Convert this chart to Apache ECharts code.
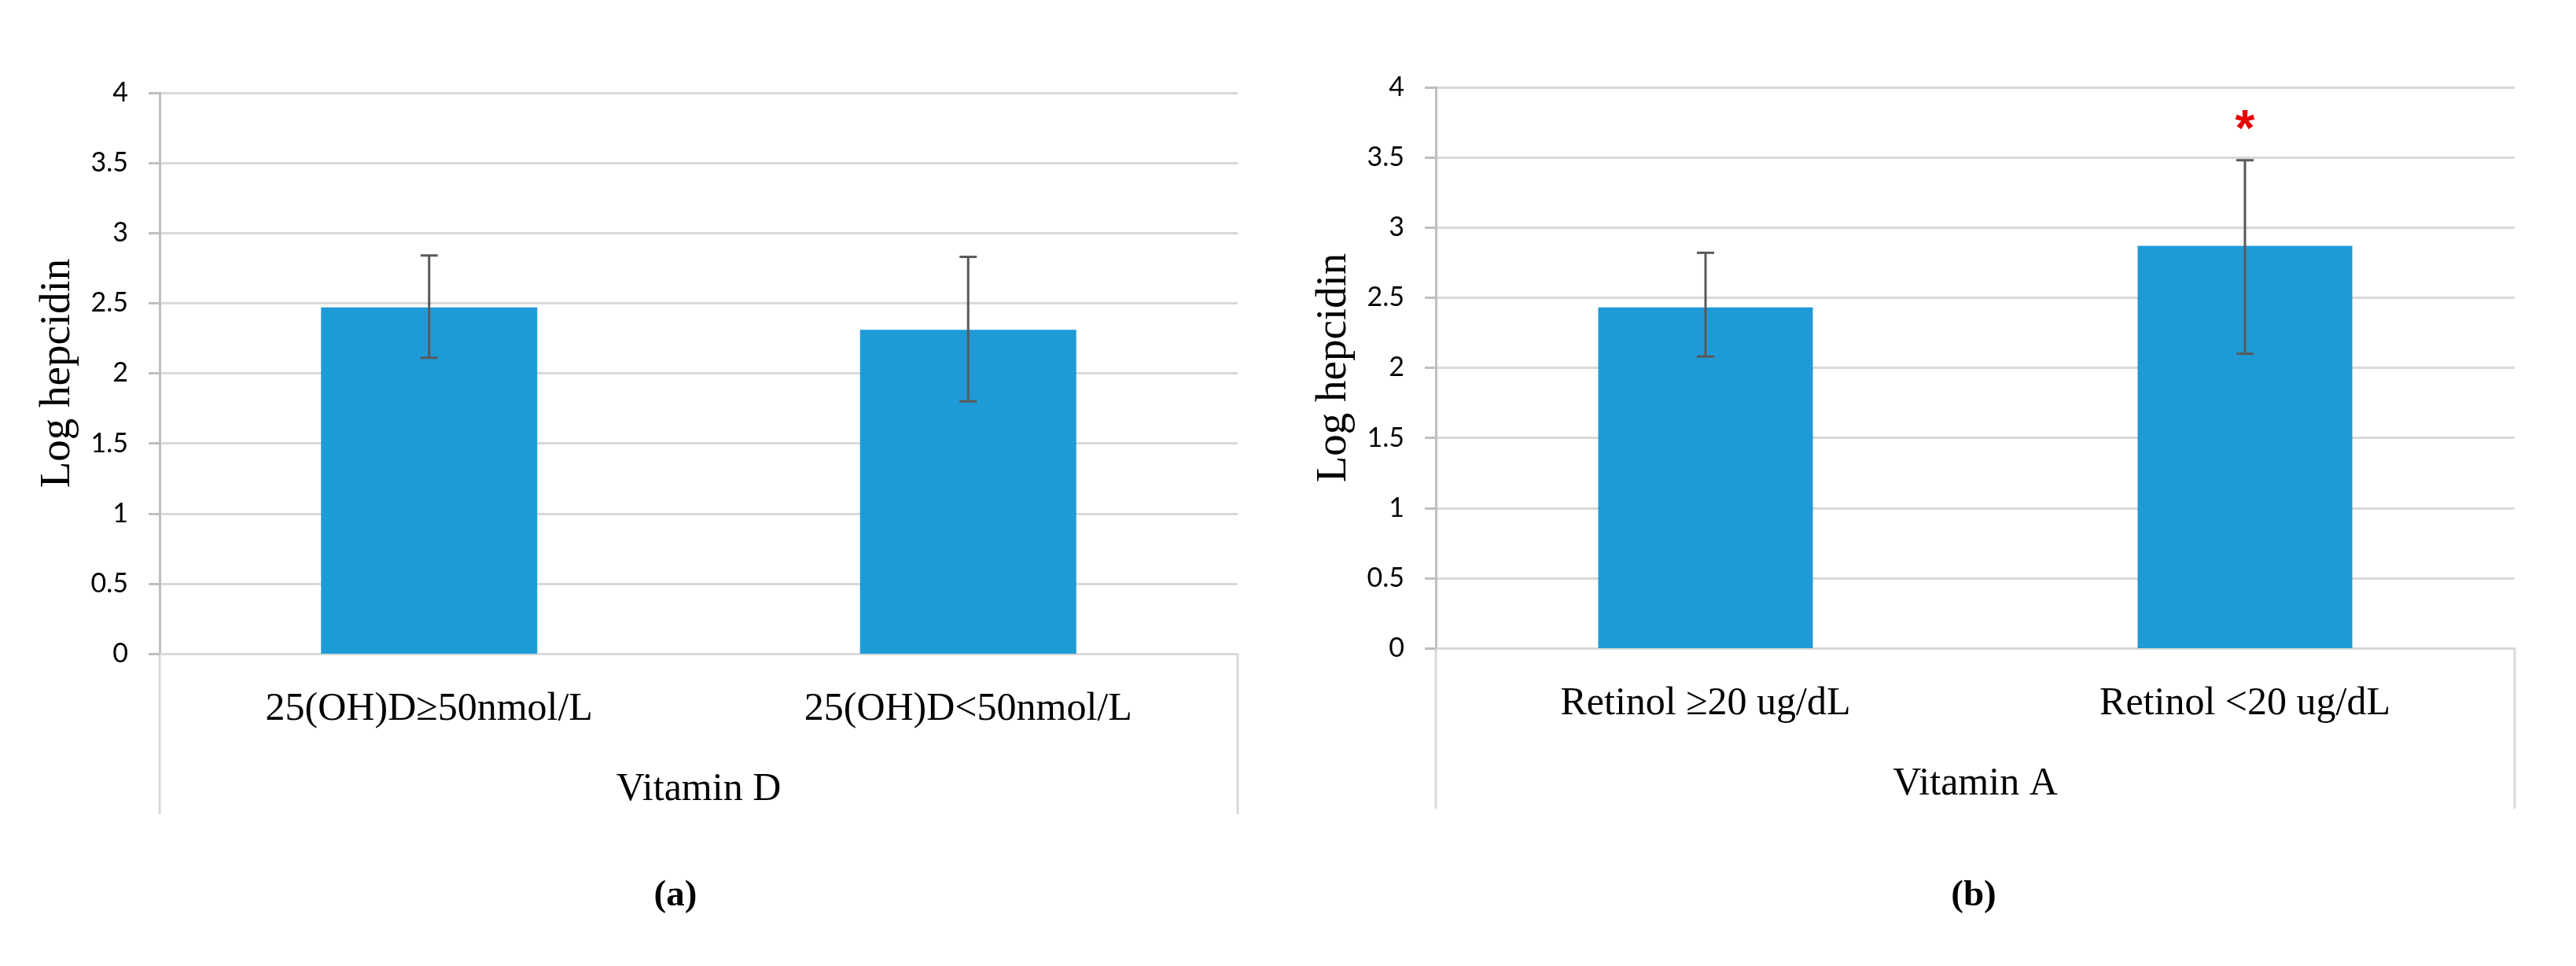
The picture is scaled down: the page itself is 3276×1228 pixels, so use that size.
<!DOCTYPE html>
<html>
<head>
<meta charset="utf-8">
<script src="https://cdn.jsdelivr.net/npm/echarts@6/dist/echarts.min.js"></script>
<style>
  html, body { margin: 0; padding: 0; background: #ffffff; }
  #chart { width: 3276px; height: 1228px; }
</style>
</head>
<body>
<div id="chart"></div>
<script>
// ---- data ----
const catsD = ['25(OH)D\u226550nmol/L', '25(OH)D<50nmol/L'];
const meanD = [2.47, 2.31];
const lowD = [2.11, 1.80];
const highD = [2.84, 2.83];
const sigD = ['', ''];

const catsA = ['Retinol \u226520 ug/dL', 'Retinol <20 ug/dL'];
const meanA = [2.43, 2.87];
const lowA = [2.08, 2.10];
const highA = [2.82, 3.48];
const sigA = ['', '*'];

const groupNames = ['Vitamin D', 'Vitamin A'];
const panelLabels = ['(a)', '(b)'];
const yTitle = 'Log hepcidin';
const yMin = 0, yMax = 4, yStep = 0.5;

// ---- layout ----
const grids = [
  { left: 203, top: 118, width: 1371, height: 713 },
  { left: 1826, top: 111, width: 1372, height: 713 }
];
const panelLabelX = [859, 2510];
const panelLabelY = 1139;
const dividerDrop = 204;

const SERIF = '"Liberation Serif", "Times New Roman", serif';
const SANS = 'Lato, "Open Sans", sans-serif';
const BAR_COLOR = '#1e9bd7';
const ERR_COLOR = '#595959';

function errorSeries(idx, lows, highs, sigs) {
  const data = lows.map((l, i) => [i, l, highs[i]]);
  return {
    type: 'custom',
    xAxisIndex: idx, yAxisIndex: idx,
    z: 10,
    encode: { x: 0, y: [1, 2] },
    data: data,
    renderItem: function (params, api) {
      const i = api.value(0);
      const top = api.coord([i, api.value(2)]);
      const bot = api.coord([i, api.value(1)]);
      const half = 11;
      const st = { stroke: ERR_COLOR, lineWidth: 3 };
      const children = [
        { type: 'line', shape: { x1: top[0], y1: top[1], x2: bot[0], y2: bot[1] }, style: st },
        { type: 'line', shape: { x1: top[0] - half, y1: top[1], x2: top[0] + half, y2: top[1] }, style: st },
        { type: 'line', shape: { x1: bot[0] - half, y1: bot[1], x2: bot[0] + half, y2: bot[1] }, style: st }
      ];
      if (sigs[i]) {
        children.push({
          type: 'text',
          style: {
            text: sigs[i], x: top[0], y: top[1] - 36,
            fill: '#e60000', align: 'center', verticalAlign: 'middle',
            font: 'bold 64px "Liberation Sans", Arial, sans-serif'
          }
        });
      }
      return { type: 'group', children: children };
    }
  };
}

function xAxisFor(idx, cats) {
  return {
    type: 'category', gridIndex: idx, data: cats,
    boundaryGap: true,
    axisLine: { show: true, lineStyle: { color: '#d9d9d9', width: 3 } },
    axisTick: { show: false },
    axisLabel: { margin: 46, color: '#000', fontFamily: SERIF, fontSize: 50 },
    name: groupNames[idx], nameLocation: 'middle', nameGap: 148,
    nameTextStyle: { color: '#000', fontFamily: SERIF, fontSize: 50 }
  };
}

function yAxisFor(idx) {
  return {
    type: 'value', gridIndex: idx, min: yMin, max: yMax, interval: yStep,
    axisLine: { show: true, lineStyle: { color: '#bfbfbf', width: 3 } },
    axisTick: { show: true, length: 14, lineStyle: { color: '#bfbfbf', width: 3 } },
    axisLabel: { margin: 40, color: '#000', fontFamily: SANS, fontSize: 34 },
    splitLine: { show: true, lineStyle: { color: '#d9d9d9', width: 3 } },
    name: yTitle, nameLocation: 'middle', nameGap: 102, nameRotate: 90,
    nameTextStyle: { color: '#000', fontFamily: SERIF, fontSize: 55 }
  };
}

const graphics = [];
grids.forEach((g, k) => {
  const y0 = g.top + g.height;
  [g.left, g.left + g.width].forEach(x => {
    graphics.push({
      type: 'line', silent: true,
      shape: { x1: x, y1: y0, x2: x, y2: y0 + dividerDrop },
      style: { stroke: '#d9d9d9', lineWidth: 3 }
    });
  });
  graphics.push({
    type: 'text', x: panelLabelX[k], y: panelLabelY,
    style: { text: panelLabels[k], align: 'center', verticalAlign: 'middle',
      fill: '#000', font: 'bold 47px ' + SERIF }
  });
});

const chart = echarts.init(document.getElementById('chart'), null, { renderer: 'canvas' });
chart.setOption({
  backgroundColor: '#ffffff',
  animation: false,
  grid: grids.map(g => Object.assign({ containLabel: false }, g)),
  xAxis: [xAxisFor(0, catsD), xAxisFor(1, catsA)],
  yAxis: [yAxisFor(0), yAxisFor(1)],
  series: [
    { type: 'bar', xAxisIndex: 0, yAxisIndex: 0, data: meanD, barWidth: 275,
      itemStyle: { color: BAR_COLOR } },
    { type: 'bar', xAxisIndex: 1, yAxisIndex: 1, data: meanA, barWidth: 273,
      itemStyle: { color: BAR_COLOR } },
    errorSeries(0, lowD, highD, sigD),
    errorSeries(1, lowA, highA, sigA)
  ],
  graphic: graphics
});
</script>
</body>
</html>
